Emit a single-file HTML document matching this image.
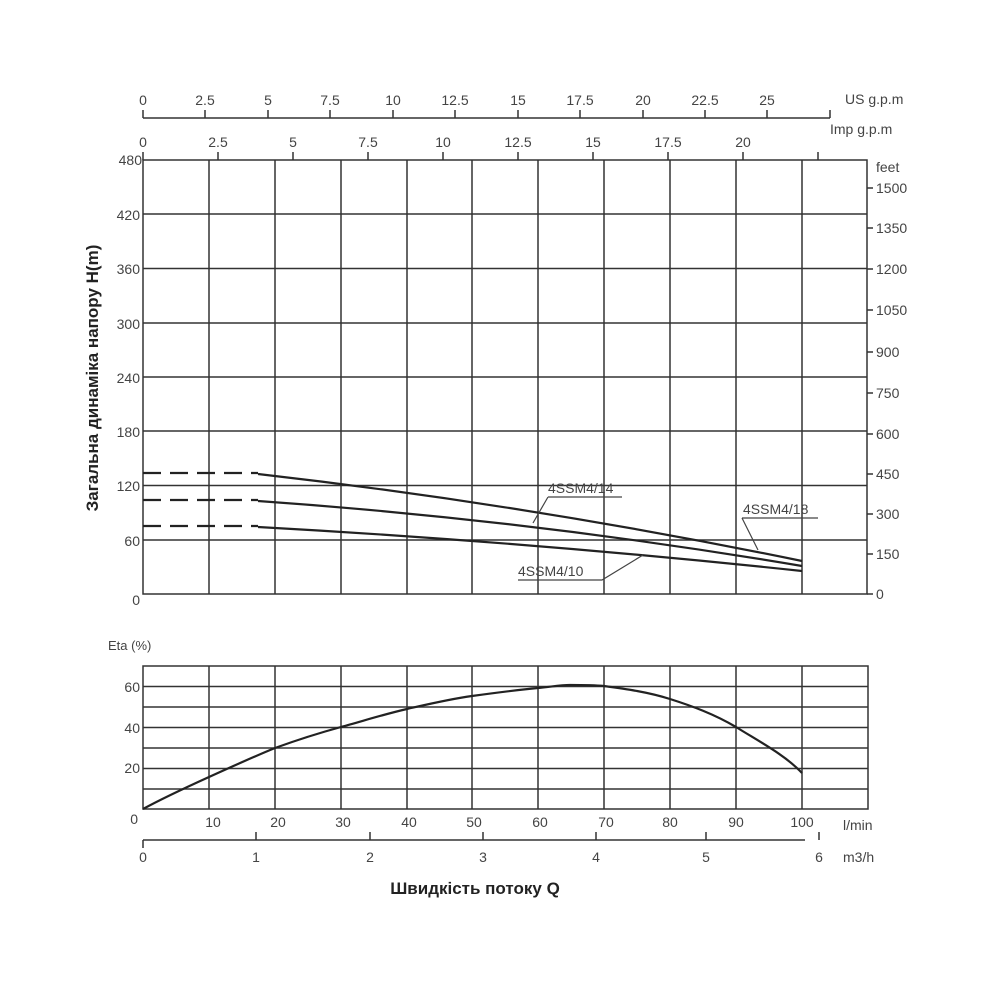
<!DOCTYPE html><html><head><meta charset="utf-8"><style>body{margin:0;background:#fff}svg{display:block}text{font-family:"Liberation Sans",sans-serif;fill:#444}</style></head><body>
<svg width="1000" height="1000" viewBox="0 0 1000 1000" xmlns="http://www.w3.org/2000/svg">
<g stroke="#333" stroke-width="1.5" fill="none">
<rect x="143" y="160" width="724" height="434"/>
<path d="M209 160V594M275 160V594M341 160V594M407 160V594M472 160V594M538 160V594M604 160V594M670 160V594M736 160V594M802 160V594"/>
<path d="M143 214H867M143 268.5H867M143 323H867M143 377H867M143 431H867M143 485.5H867M143 540H867"/>
<path d="M867 594H873M867 554H873M867 514H873M867 474H873M867 434H873M867 393H873M867 352H873M867 310H873M867 269H873M867 228H873M867 188H873"/>
<path d="M143 118H830M143 110V118M205 110V118M268 110V118M330 110V118M393 110V118M455 110V118M518 110V118M580 110V118M643 110V118M705 110V118M767 110V118M830 110V118"/>
<path d="M143 152V160M218 152V160M293 152V160M368 152V160M443 152V160M518 152V160M593 152V160M668 152V160M743 152V160M818 152V160"/>
<rect x="143" y="666" width="725" height="143"/>
<path d="M209 666V809M275 666V809M341 666V809M407 666V809M472 666V809M538 666V809M604 666V809M670 666V809M736 666V809M802 666V809"/>
<path d="M143 686.5H868M143 707H868M143 727.5H868M143 748H868M143 768.5H868M143 789H868"/>
<path d="M143 840H805M143 840V848M256 832V840M370 832V840M483 832V840M596 832V840M706 832V840M819 832V840"/>
</g>
<g stroke="#222" stroke-width="2.2" fill="none">
<path d="M143 473H258" stroke-dasharray="18,9"/>
<path d="M143 500H258" stroke-dasharray="18,9"/>
<path d="M143 526H258" stroke-dasharray="18,9"/>
<path d="M258 474Q530 505 802 561"/>
<path d="M258 501Q530 520 802 566"/>
<path d="M258 527Q530 542 802 571"/>
<path d="M143 809C165 797 187 787 209 777C231 767 253 757 275 748C297 740 319 733 341 727C363 721 385 714 407 709C429 704 450 699 472 696C494 693 516 690 538 688C550 687 560 685 570 685C582 685 593 685 604 686C626 689 648 692 670 699C692 706 714 714 736 727C760 742 785 755 802 773"/>
</g>
<g stroke="#444" stroke-width="1.2" fill="none">
<path d="M548 497H622M548 497L533 523"/>
<path d="M742 518H818M742 518L758 550"/>
<path d="M518 580H602L643 555"/>
</g>
<g font-size="14">
<text x="548" y="493">4SSM4/14</text>
<text x="743" y="514">4SSM4/18</text>
<text x="518" y="576">4SSM4/10</text>
</g>
<g font-size="14" text-anchor="middle">
<text x="143" y="105">0</text><text x="205" y="105">2.5</text><text x="268" y="105">5</text><text x="330" y="105">7.5</text><text x="393" y="105">10</text><text x="455" y="105">12.5</text><text x="518" y="105">15</text><text x="580" y="105">17.5</text><text x="643" y="105">20</text><text x="705" y="105">22.5</text><text x="767" y="105">25</text>
<text x="143" y="147">0</text><text x="218" y="147">2.5</text><text x="293" y="147">5</text><text x="368" y="147">7.5</text><text x="443" y="147">10</text><text x="518" y="147">12.5</text><text x="593" y="147">15</text><text x="668" y="147">17.5</text><text x="743" y="147">20</text>
<text x="213" y="827">10</text><text x="278" y="827">20</text><text x="343" y="827">30</text><text x="409" y="827">40</text><text x="474" y="827">50</text><text x="540" y="827">60</text><text x="606" y="827">70</text><text x="670" y="827">80</text><text x="736" y="827">90</text><text x="802" y="827">100</text>
<text x="143" y="862">0</text><text x="256" y="862">1</text><text x="370" y="862">2</text><text x="483" y="862">3</text><text x="596" y="862">4</text><text x="706" y="862">5</text><text x="819" y="862">6</text>
</g>
<g font-size="14" text-anchor="end">
<text x="142" y="165">480</text><text x="140" y="220">420</text><text x="140" y="274">360</text><text x="140" y="329">300</text><text x="140" y="383">240</text><text x="140" y="437">180</text><text x="140" y="491">120</text><text x="140" y="546">60</text><text x="140" y="605">0</text>
<text x="140" y="692">60</text><text x="140" y="733">40</text><text x="140" y="773">20</text><text x="138" y="824">0</text>
</g>
<g font-size="14">
<text x="876" y="599">0</text><text x="876" y="559">150</text><text x="876" y="519">300</text><text x="876" y="479">450</text><text x="876" y="439">600</text><text x="876" y="398">750</text><text x="876" y="357">900</text><text x="876" y="315">1050</text><text x="876" y="274">1200</text><text x="876" y="233">1350</text><text x="876" y="193">1500</text>
<text x="876" y="172">feet</text>
<text x="845" y="104">US g.p.m</text><text x="830" y="134">Imp g.p.m</text>
<text x="843" y="830">l/min</text><text x="843" y="862">m3/h</text>
<text x="108" y="650" font-size="13">Eta (%)</text>
</g>
<text x="475" y="894" font-size="17" font-weight="bold" text-anchor="middle" style="fill:#222">Швидкість потоку Q</text>
<text transform="translate(98 378) rotate(-90)" font-size="17" font-weight="bold" text-anchor="middle" style="fill:#222">Загальна динаміка напору H(m)</text>
</svg></body></html>
